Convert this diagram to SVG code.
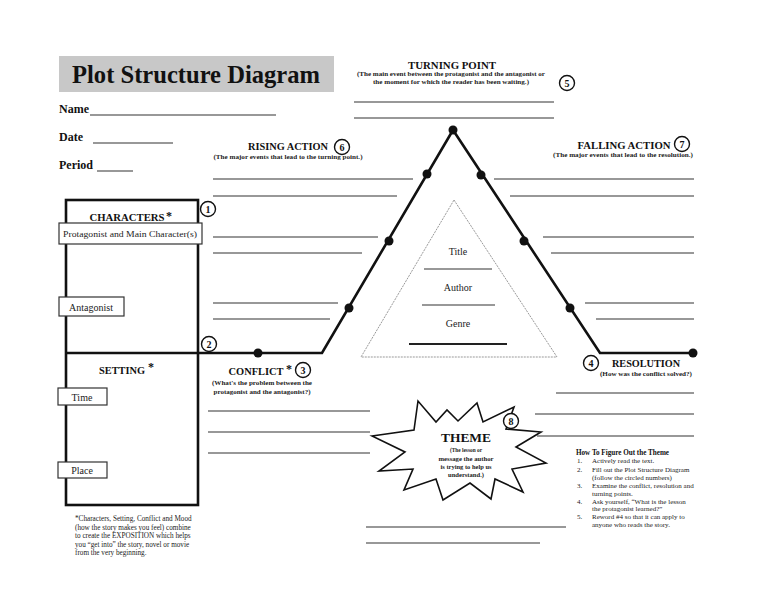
<svg xmlns="http://www.w3.org/2000/svg" width="768" height="594" viewBox="0 0 768 594">
<style>
.h{font-family:"Liberation Serif",serif;font-weight:bold;fill:#111}
.s{font-family:"Liberation Serif",serif;font-weight:bold;fill:#222;font-size:7px}
.t{font-family:"Liberation Serif",serif;fill:#222}
.ln{stroke:#333;stroke-width:1.2;fill:none}
.thick{stroke:#111;stroke-width:2.6;fill:none}
.num{fill:#fff;stroke:#111;stroke-width:1.4}
.nt{font-family:"Liberation Serif",serif;font-weight:bold;font-size:10px;fill:#111;text-anchor:middle}
.lab{fill:#fff;stroke:#333;stroke-width:1.2}
.dot{fill:#111}
</style>
<rect width="768" height="594" fill="#fff"/>

<g id="title">
<rect x="59" y="56" width="275" height="36" fill="#c8c8c8"/>
<text class="h" x="196" y="83" font-size="26" text-anchor="middle" textLength="248" lengthAdjust="spacingAndGlyphs">Plot Structure Diagram</text>
</g>

<g id="student-info">
<text class="h" x="59" y="113" font-size="13" textLength="30" lengthAdjust="spacingAndGlyphs">Name</text>
<line class="ln" x1="90" y1="115" x2="276" y2="115"/>
<text class="h" x="59" y="141" font-size="13" textLength="24" lengthAdjust="spacingAndGlyphs">Date</text>
<line class="ln" x1="93" y1="143" x2="173" y2="143"/>
<text class="h" x="59" y="169" font-size="13" textLength="34" lengthAdjust="spacingAndGlyphs">Period</text>
<line class="ln" x1="97" y1="171" x2="133" y2="171"/>
</g>

<g id="connectors">
<polyline class="thick" points="66,353 322,353 453,130 600,353 693,353"/>
</g>

<g id="plot-points">
<circle class="dot" cx="453" cy="130" r="4.5"/>
<circle class="dot" cx="427" cy="174" r="4.5"/>
<circle class="dot" cx="389" cy="241" r="4.5"/>
<circle class="dot" cx="349" cy="308" r="4.5"/>
<circle class="dot" cx="481" cy="175" r="4.5"/>
<circle class="dot" cx="524" cy="241" r="4.5"/>
<circle class="dot" cx="570" cy="308" r="4.5"/>
<circle class="dot" cx="258" cy="353" r="4.5"/>
<circle class="dot" cx="693" cy="353" r="4.5"/>
</g>

<g id="turning-point">
<text class="h" x="452" y="69" font-size="11" text-anchor="middle" textLength="88" lengthAdjust="spacingAndGlyphs">TURNING POINT</text>
<text class="s" x="451" y="76" text-anchor="middle" textLength="188" lengthAdjust="spacingAndGlyphs">(The main event between the protagonist and the antagonist or</text>
<text class="s" x="451" y="84" text-anchor="middle" textLength="156" lengthAdjust="spacingAndGlyphs">the moment for which the reader has been waiting.)</text>
<circle class="num" cx="567" cy="83" r="7.5"/><text class="nt" x="567" y="87">5</text>
<line class="ln" x1="354" y1="102" x2="554" y2="102"/>
<line class="ln" x1="354" y1="118" x2="554" y2="118"/>
</g>

<g id="rising-action">
<text class="h" x="288" y="150" font-size="11" text-anchor="middle" textLength="80" lengthAdjust="spacingAndGlyphs">RISING ACTION</text>
<circle class="num" cx="342" cy="147" r="7.5"/><text class="nt" x="342" y="151">6</text>
<text class="s" x="288" y="159" text-anchor="middle" textLength="149" lengthAdjust="spacingAndGlyphs">(The major events that lead to the turning point.)</text>
<line class="ln" x1="213" y1="179" x2="413" y2="179"/>
<line class="ln" x1="213" y1="196" x2="397" y2="196"/>
<line class="ln" x1="213" y1="237" x2="378" y2="237"/>
<line class="ln" x1="213" y1="253" x2="362" y2="253"/>
<line class="ln" x1="213" y1="303" x2="338" y2="303"/>
<line class="ln" x1="213" y1="319" x2="330" y2="319"/>
</g>

<g id="falling-action">
<text class="h" x="624" y="149" font-size="11" text-anchor="middle" textLength="93" lengthAdjust="spacingAndGlyphs">FALLING ACTION</text>
<circle class="num" cx="682" cy="144" r="7.5"/><text class="nt" x="682" y="148">7</text>
<text class="s" x="623" y="157" text-anchor="middle" textLength="140" lengthAdjust="spacingAndGlyphs">(The major events that lead to the resolution.)</text>
<line class="ln" x1="494" y1="179" x2="694" y2="179"/>
<line class="ln" x1="510" y1="196" x2="694" y2="196"/>
<line class="ln" x1="543" y1="237" x2="694" y2="237"/>
<line class="ln" x1="551" y1="253" x2="694" y2="253"/>
<line class="ln" x1="585" y1="303" x2="694" y2="303"/>
<line class="ln" x1="596" y1="319" x2="694" y2="319"/>
</g>

<g id="story-info">
<polygon points="454,200 557,357 361,357" fill="none" stroke="#999" stroke-width="1" stroke-dasharray="2,1"/>
<text class="t" x="458" y="255" font-size="10" text-anchor="middle">Title</text>
<line class="ln" x1="424" y1="269" x2="492" y2="269"/>
<text class="t" x="458" y="291" font-size="10" text-anchor="middle">Author</text>
<line class="ln" x1="422" y1="305" x2="495" y2="305"/>
<text class="t" x="458" y="327" font-size="10" text-anchor="middle">Genre</text>
<line x1="409" y1="344" x2="507" y2="344" stroke="#222" stroke-width="1.8"/>
</g>

<g id="characters">
<rect x="66" y="200" width="132" height="305" fill="none" stroke="#111" stroke-width="2.6"/>
<text class="h" x="127" y="221" font-size="11" text-anchor="middle" textLength="75" lengthAdjust="spacingAndGlyphs">CHARACTERS</text>
<text class="h" x="166" y="220" font-size="12">*</text>
<circle class="num" cx="208" cy="209" r="7.5"/><text class="nt" x="208" y="213">1</text>
<rect class="lab" x="59" y="223" width="143" height="21"/>
<text class="t" x="130" y="237" font-size="9" text-anchor="middle" textLength="134" lengthAdjust="spacingAndGlyphs">Protagonist and Main Character(s)</text>
<rect class="lab" x="59" y="297" width="65" height="19"/>
<text class="t" x="91" y="311" font-size="10" text-anchor="middle">Antagonist</text>
<circle class="num" cx="209" cy="344" r="7.5"/><text class="nt" x="209" y="348">2</text>
</g>

<g id="setting">
<text class="h" x="122" y="374" font-size="11" text-anchor="middle" textLength="46" lengthAdjust="spacingAndGlyphs">SETTING</text>
<text class="h" x="148" y="371" font-size="12">*</text>
<rect class="lab" x="58" y="388" width="49" height="17"/>
<text class="t" x="82" y="401" font-size="10" text-anchor="middle">Time</text>
<rect class="lab" x="58" y="462" width="49" height="16"/>
<text class="t" x="82" y="474" font-size="10" text-anchor="middle">Place</text>
</g>

<g id="conflict">
<text class="h" x="256" y="375" font-size="11" text-anchor="middle" textLength="55" lengthAdjust="spacingAndGlyphs">CONFLICT</text>
<text class="h" x="286" y="373" font-size="12">*</text>
<circle class="num" cx="303" cy="370" r="7.5"/><text class="nt" x="303" y="374">3</text>
<text class="s" x="262" y="385" text-anchor="middle" textLength="100" lengthAdjust="spacingAndGlyphs">(What's the problem between the</text>
<text class="s" x="262" y="394" text-anchor="middle" textLength="97" lengthAdjust="spacingAndGlyphs">protagonist and the antagonist?)</text>
<line class="ln" x1="208" y1="411" x2="370" y2="411"/>
<line class="ln" x1="208" y1="432" x2="370" y2="432"/>
<line class="ln" x1="208" y1="453" x2="370" y2="453"/>
</g>

<g id="resolution">
<circle class="num" cx="591" cy="363" r="7.5"/><text class="nt" x="591" y="367">4</text>
<text class="h" x="646" y="367" font-size="11" text-anchor="middle" textLength="68" lengthAdjust="spacingAndGlyphs">RESOLUTION</text>
<text class="s" x="646" y="376" text-anchor="middle" textLength="92" lengthAdjust="spacingAndGlyphs">(How was the conflict solved?)</text>
<line class="ln" x1="556" y1="393" x2="694" y2="393"/>
<line class="ln" x1="535" y1="414" x2="694" y2="414"/>
<line class="ln" x1="537" y1="436" x2="694" y2="436"/>
</g>

<g id="theme">
<path d="M372,436 L414,430 L418,401 L436,422 L447,410 L458,421 L477,403 L483,422 L514,407 L506,429 L541,432 L516,447 L546,463 L512,469 L523,492 L495,479 L491,499 L470,483 L443,500 L436,479 L404,490 L413,469 L379,471 L405,452 Z" fill="#fff" stroke="#111" stroke-width="1.6" stroke-linejoin="miter"/>
<circle class="num" cx="511" cy="421" r="7.5"/><text class="nt" x="511" y="425">8</text>
<text class="h" x="466" y="442" font-size="13" text-anchor="middle" textLength="50" lengthAdjust="spacingAndGlyphs">THEME</text>
<text class="s" x="466" y="452" text-anchor="middle" textLength="32" lengthAdjust="spacingAndGlyphs">(The lesson or</text>
<text class="s" x="466" y="461" text-anchor="middle" textLength="55" lengthAdjust="spacingAndGlyphs">message the author</text>
<text class="s" x="466" y="469" text-anchor="middle" textLength="51" lengthAdjust="spacingAndGlyphs">is trying to help us</text>
<text class="s" x="466" y="477" text-anchor="middle" textLength="36" lengthAdjust="spacingAndGlyphs">understand.)</text>
<line class="ln" x1="366" y1="527" x2="566" y2="527"/>
<line class="ln" x1="366" y1="543" x2="540" y2="543"/>
</g>

<g id="how-to">
<text class="h" x="576" y="455" font-size="7.5" textLength="93" lengthAdjust="spacingAndGlyphs">How To Figure Out the Theme</text>
<g class="t" font-size="7">
<text x="577" y="463">1.</text><text x="592" y="463">Actively read the text.</text>
<text x="577" y="471.5">2.</text><text x="592" y="471.5">Fill out the Plot Structure Diagram</text>
<text x="592" y="479.5">(follow the circled numbers)</text>
<text x="577" y="488">3.</text><text x="592" y="488">Examine the conflict, resolution and</text>
<text x="592" y="495.5">turning points.</text>
<text x="577" y="503.5">4.</text><text x="592" y="503.5">Ask yourself, “What is the lesson</text>
<text x="592" y="511">the protagonist learned?”</text>
<text x="577" y="519">5.</text><text x="592" y="519">Reword #4 so that it can apply to</text>
<text x="592" y="527">anyone who reads the story.</text>
</g>
</g>

<g id="footnote" class="t" font-size="7.2">
<text x="75" y="521">*Characters, Setting, Conflict and Mood</text>
<text x="75" y="529.5">(how the story makes you feel) combine</text>
<text x="75" y="538">to create the EXPOSITION which helps</text>
<text x="75" y="546.5">you “get into” the story, novel or movie</text>
<text x="75" y="555">from the very beginning.</text>
</g>
</svg>
